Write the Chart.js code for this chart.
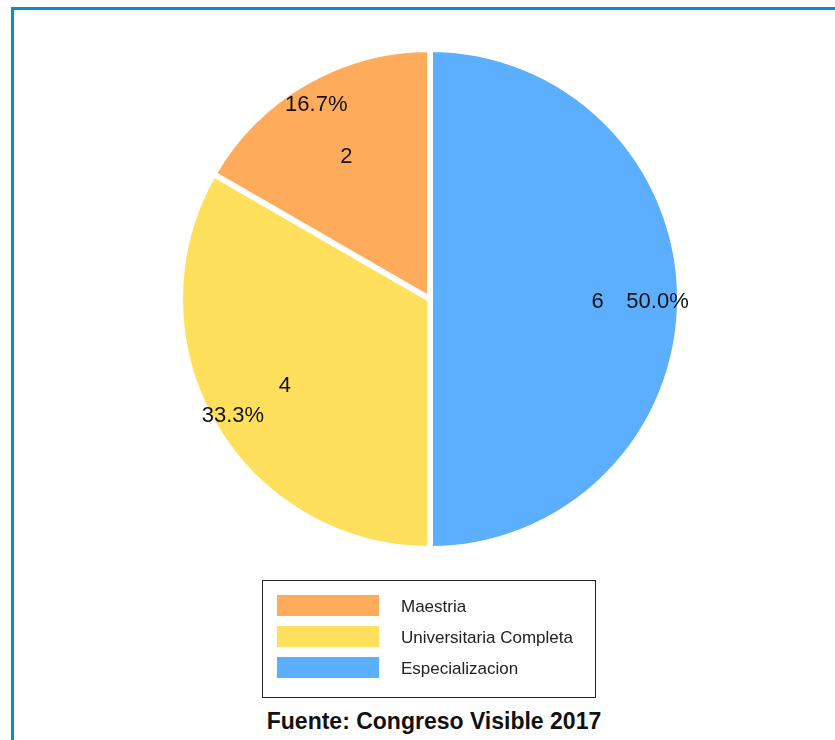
<!DOCTYPE html>
<html>
<head>
<meta charset="utf-8">
<script src="https://cdn.jsdelivr.net/npm/chart.js@4.4.1/dist/chart.umd.min.js"></script>
<style>
    body { margin: 0; background: #fff; font-family: 'Liberation Sans', Arial, sans-serif; }
    #frame {
        position: absolute; left: 11px; top: 7px; width: 824px; height: 733px;
        border-left: 3px solid #0a8fc0; border-top: 3px solid #0a8fc0;
        box-sizing: border-box;
    }
    #wrap { position: absolute; left: 0; top: 0; width: 835px; height: 600px; }
    #legend {
        position: absolute; left: 262px; top: 580px; width: 334px; height: 118px;
        border: 1px solid #222; box-sizing: border-box;
    }
    .item { position: absolute; left: 14px; height: 22px; }
    .swatch { position: absolute; left: 0; top: 0; width: 102px; height: 21px; }
    .label { position: absolute; left: 124px; top: 2px; font-size: 17px; color: #222; white-space: nowrap; line-height: 20px; }
    #source {
        position: absolute; left: 0; width: 868px; top: 708px; text-align: center;
        font-size: 23px; font-weight: bold; color: #111;
    }
</style>
</head>
<body>
<div id="frame"></div>
<div id="wrap"><canvas id="pieChart" width="835" height="600"></canvas></div>
<div id="legend"></div>
<div id="source">Fuente: Congreso Visible 2017</div>
<script>
    // legend order as in the figure
    const categories = ['Maestria', 'Universitaria Completa', 'Especializacion'];
    const counts = [2, 4, 6];
    const colors = ['#FFAB5C', '#FFE05C', '#5CAFFF'];

    const total = counts.reduce((a, b) => a + b, 0);

    // the pie runs counter-clockwise from the top, so draw the reversed order clockwise
    const drawOrder = [2, 1, 0];

    const sliceLabels = {
        id: 'sliceLabels',
        afterDatasetsDraw(chart) {
            const ctx = chart.ctx;
            const meta = chart.getDatasetMeta(0);
            ctx.save();
            ctx.font = "22px 'Liberation Sans', Arial, sans-serif";
            ctx.fillStyle = '#111';
            ctx.textAlign = 'center';
            ctx.textBaseline = 'middle';
            meta.data.forEach((arc, i) => {
                const p = arc.getProps(['x', 'y', 'startAngle', 'endAngle', 'outerRadius']);
                const mid = (p.startAngle + p.endAngle) / 2;
                const v = chart.data.datasets[0].data[i];
                const pct = (v / total * 100).toFixed(1) + '%';
                const r1 = p.outerRadius * 0.67;
                const r2 = p.outerRadius * 0.91;
                ctx.fillText(String(v), p.x + Math.cos(mid) * r1, p.y + Math.sin(mid) * r1 + 3);
                ctx.fillText(pct, p.x + Math.cos(mid) * r2, p.y + Math.sin(mid) * r2 + 3);
            });
            ctx.restore();
        }
    };

    const ctx = document.getElementById('pieChart').getContext('2d');
    new Chart(ctx, {
        type: 'pie',
        data: {
            labels: drawOrder.map(i => categories[i]),
            datasets: [{
                data: drawOrder.map(i => counts[i]),
                backgroundColor: drawOrder.map(i => colors[i]),
                borderColor: '#ffffff',
                borderWidth: 6
            }]
        },
        options: {
            responsive: false,
            animation: false,
            radius: 250,
            layout: { padding: { left: 25, right: 0, top: 0, bottom: 2 } },
            plugins: {
                legend: { display: false },
                tooltip: { enabled: false }
            }
        },
        plugins: [sliceLabels]
    });

    // legend box
    const legend = document.getElementById('legend');
    categories.forEach((name, i) => {
        const item = document.createElement('div');
        item.className = 'item';
        item.style.top = (14 + i * 31) + 'px';
        item.innerHTML = '<div class="swatch" style="background:' + colors[i] + '"></div>' +
            '<div class="label">' + name + '</div>';
        legend.appendChild(item);
    });
</script>
</body>
</html>
